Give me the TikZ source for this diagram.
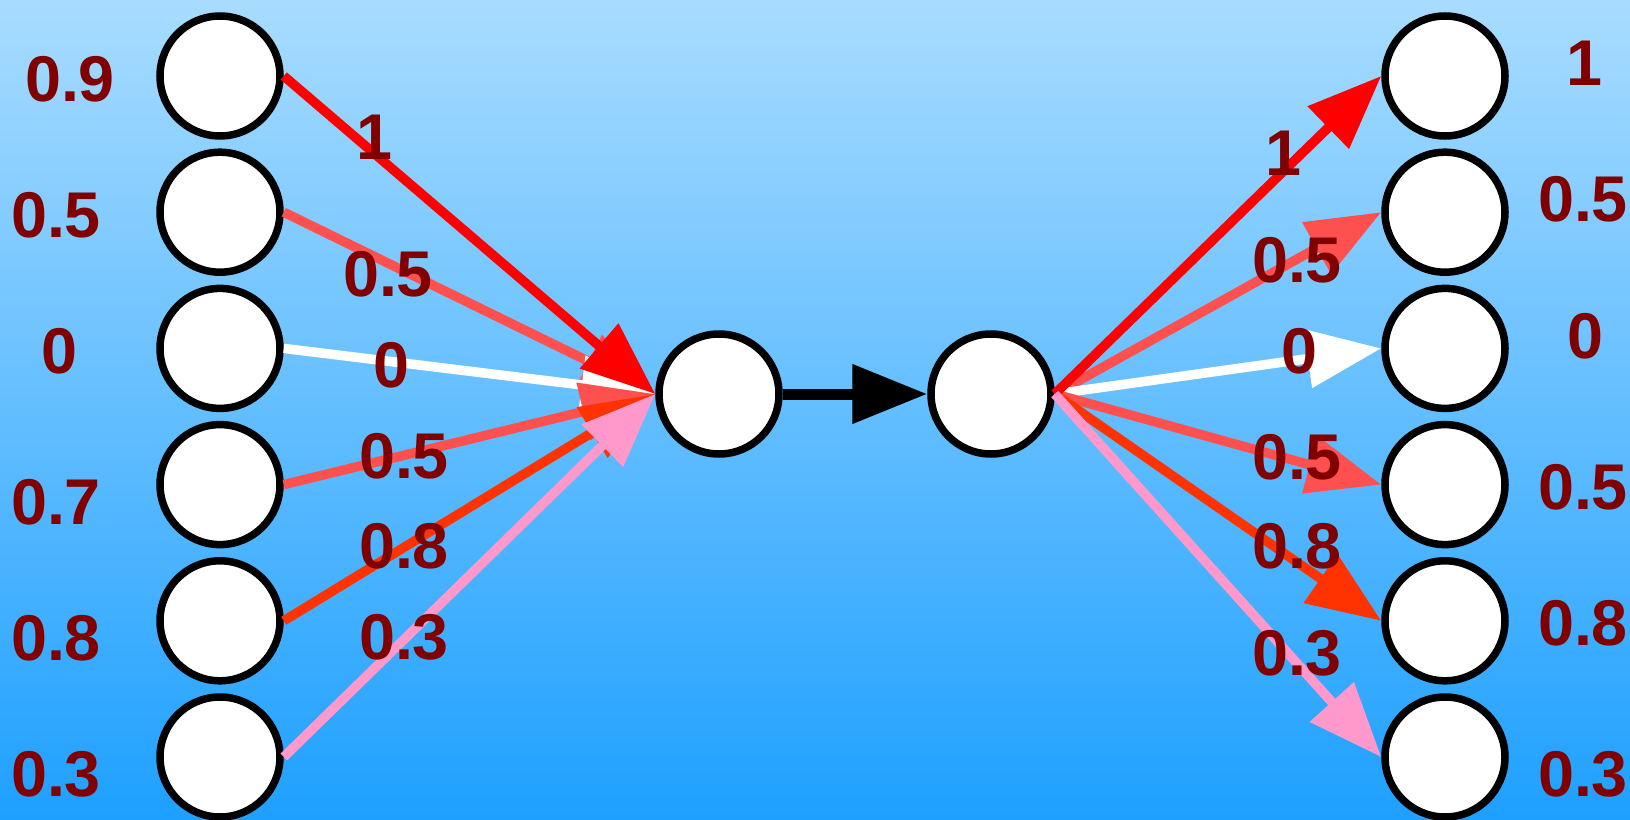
\documentclass[tikz,border=0pt]{standalone}
\usepackage{fontspec}
\setmainfont{Liberation Sans}
\usetikzlibrary{arrows.meta}
\definecolor{skytop}{HTML}{A8DCFF}
\definecolor{skybot}{HTML}{1EA0FF}
\definecolor{wred}{HTML}{FF0000}
\definecolor{wsalmon}{HTML}{FF5050}
\definecolor{worange}{HTML}{FF3300}
\definecolor{wpink}{HTML}{FF99CC}
\definecolor{lblred}{HTML}{800000}

\begin{document}
\begin{tikzpicture}[
    neuron/.style={circle,draw=black,line width=0.075cm,fill=white,
                   minimum size=1.2cm,inner sep=0pt},
    wt/.style={line width=0.095cm,-{Triangle[length=0.74cm,width=0.57cm]}},
    lb/.style={font=\fontsize{18.4}{21}\selectfont\bfseries,
               text=lblred,inner sep=0pt}
  ]
    \useasboundingbox (0,0) rectangle (16.30,8.19);
    \shade[top color=skytop,bottom color=skybot] (0,0) rectangle (16.30,8.19);

    %% Neurons ────────────────────────────────
    \foreach \i in {1,...,6}{
      \node[neuron] (L\i) at (2.20,{7.43-1.362*(\i-1)}) {};
      \node[neuron] (R\i) at (14.45,{7.43-1.362*(\i-1)}) {};
    }
    \node[neuron] (S) at (7.19,4.25) {};
    \node[neuron] (O) at (9.91,4.25) {};

    %% Weighted connections ───────────────────
    \foreach \i/\c in {2/wsalmon,3/white,4/wsalmon,5/worange,1/wred,6/wpink}{
      \draw[wt,\c] (L\i.east) -- (S.west);
      \draw[wt,\c] (O.east) -- (R\i.west);
    }
    \draw[line width=0.11cm,-{Triangle[length=0.75cm,width=0.57cm]}] (S) -- (O);

    %% Values ─────────────────────────────────
    \foreach \n/\x/\y/\t in {in1/0.70/7.40/0.9, in2/0.56/6.04/0.5,
        in3/0.59/4.68/0, in4/0.56/3.17/0.7, in5/0.56/1.81/0.8,
        in6/0.56/0.45/0.3}
      \node[lb] (\n) at (\x,\y) {\t};
    \foreach \n/\x/\y/\t in {wl1/3.74/6.82/1, wl2/3.88/5.45/0.5,
        wl3/3.91/4.54/0, wl4/4.04/3.63/0.5, wl5/4.04/2.73/0.8,
        wl6/4.04/1.82/0.3}
      \node[lb] (\n) at (\x,\y) {\t};
    \foreach \n/\x/\y/\t in {wr1/12.83/6.66/1, wr2/12.97/5.59/0.5,
        wr3/12.99/4.68/0, wr4/12.97/3.62/0.5, wr5/12.97/2.73/0.8,
        wr6/12.97/1.66/0.3}
      \node[lb] (\n) at (\x,\y) {\t};
    \foreach \n/\x/\y/\t in {out1/15.84/7.56/1, out2/15.83/6.20/0.5,
        out3/15.85/4.83/0, out4/15.83/3.32/0.5, out5/15.83/1.96/0.8,
        out6/15.83/0.45/0.3}
      \node[lb] (\n) at (\x,\y) {\t};
\end{tikzpicture}
\end{document}
